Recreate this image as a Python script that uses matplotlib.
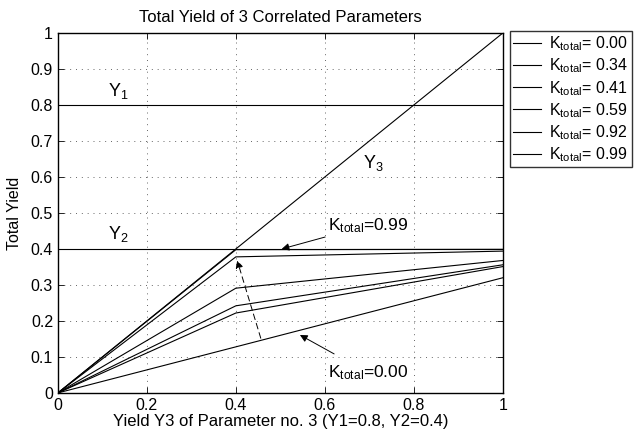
import matplotlib
matplotlib.use('Agg')
import matplotlib.pyplot as plt

plt.rcParams['font.family'] = 'Liberation Sans'
plt.rcParams['mathtext.fontset'] = 'custom'
plt.rcParams['mathtext.rm'] = 'Liberation Sans'
plt.rcParams['mathtext.it'] = 'Liberation Sans'
plt.rcParams['font.size'] = 11

# yield of parameter 3 where the curves are evaluated
y3 = [0.0, 0.4, 1.0]
y1_level = 0.8
y2_level = 0.4

# total yield for each correlation coefficient
k_values = ['0.00', '0.34', '0.41', '0.59', '0.92', '0.99']
k_curves = [
    [0.0, 0.128, 0.320],
    [0.0, 0.222, 0.351],
    [0.0, 0.242, 0.356],
    [0.0, 0.291, 0.368],
    [0.0, 0.378, 0.394],
    [0.0, 0.398, 0.399],
]

fig = plt.figure(figsize=(6.43, 4.40), dpi=100)
ax = fig.add_axes([0.090, 0.107, 0.692, 0.818])

for k, curve in zip(k_values, k_curves):
    ax.plot(y3, curve, color='black', lw=0.8,
            label=r'$\mathrm{K_{total}}$= ' + k)

ax.plot([0, 1], [y1_level, y1_level], color='black', lw=0.8)
ax.plot([0, 1], [y2_level, y2_level], color='black', lw=0.8)
ax.plot([0, 1], [0, 1], color='black', lw=0.8)

ax.text(0.112, 0.826, r'$\mathrm{Y_1}$', fontsize=13)
ax.text(0.112, 0.428, r'$\mathrm{Y_2}$', fontsize=13)
ax.text(0.685, 0.626, r'$\mathrm{Y_3}$', fontsize=13)

arrow = dict(arrowstyle='-|>', color='black', lw=0.7, mutation_scale=11)
ax.annotate(r'$\mathrm{K_{total}}$=0.99', xy=(0.503, 0.400), xytext=(0.607, 0.440),
            fontsize=12.5, arrowprops=dict(arrow, shrinkA=0, shrinkB=0),
            va='bottom')
ax.annotate(r'$\mathrm{K_{total}}$=0.00', xy=(0.544, 0.161), xytext=(0.607, 0.030),
            fontsize=12.5, arrowprops=dict(arrow, shrinkA=10, shrinkB=0),
            va='bottom')
ax.annotate('', xy=(0.403, 0.368), xytext=(0.456, 0.152),
            arrowprops=dict(arrowstyle='-|>', color='black', lw=0.7,
                            mutation_scale=11, linestyle=(0, (6, 4)),
                            shrinkA=0, shrinkB=0))

ax.set_xlim(0, 1)
ax.set_ylim(0, 1)
ax.set_xticks([0, 0.2, 0.4, 0.6, 0.8, 1])
ax.set_xticklabels(['0', '0.2', '0.4', '0.6', '0.8', '1'])
ax.set_yticks([i / 10 for i in range(11)])
ax.set_yticklabels(['0', '0.1', '0.2', '0.3', '0.4', '0.5', '0.6', '0.7',
                    '0.8', '0.9', '1'])
ax.tick_params(direction='in', top=True, right=True, length=4, width=0.6,
               labelsize=11.5)
ax.grid(True, linestyle=(0, (1, 5)), color='black', lw=0.7, alpha=0.6)
for s in ax.spines.values():
    s.set_linewidth(1.0)

ax.set_title('Total Yield of 3 Correlated Parameters', fontsize=12, pad=8)
ax.set_xlabel('Yield Y3 of Parameter no. 3 (Y1=0.8, Y2=0.4)', labelpad=1,
              fontsize=12)
ax.set_ylabel('Total Yield', labelpad=6, fontsize=11.5)

leg = ax.legend(loc='upper left', bbox_to_anchor=(1.015, 1.005), frameon=True,
                fancybox=False, edgecolor='black', borderaxespad=0,
                handlelength=1.8, handletextpad=0.5, labelspacing=0.22,
                borderpad=0.2, fontsize=11.5)
leg.get_frame().set_linewidth(1.0)

fig.savefig('out.png', dpi=100)
